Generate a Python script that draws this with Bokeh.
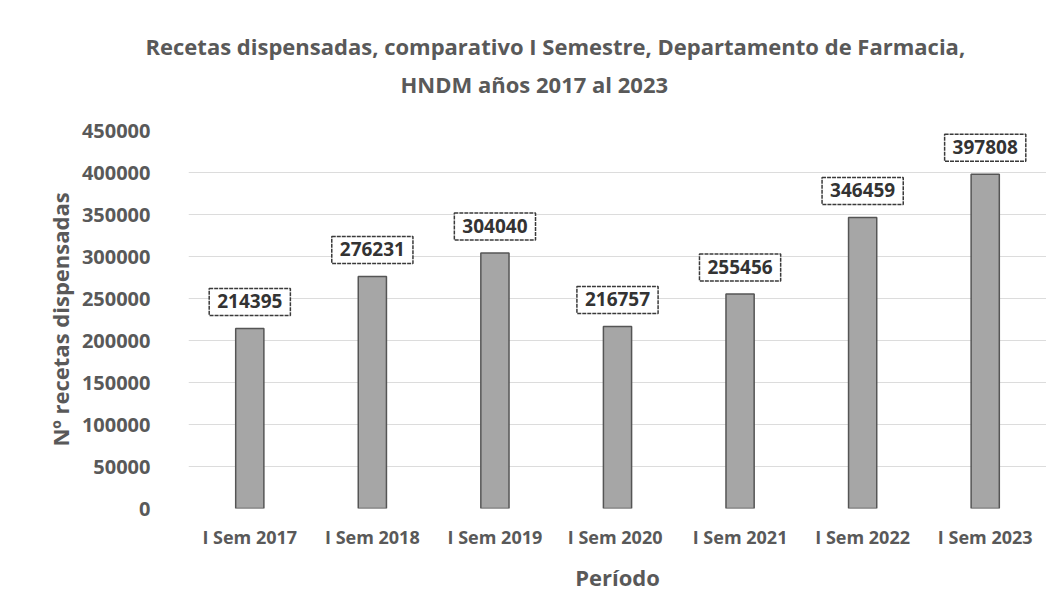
from bokeh.plotting import figure
from bokeh.models import ColumnDataSource, Label, Range1d, FactorRange, Title
from bokeh.embed import file_html
from bokeh.resources import INLINE

periods = ["I Sem 2017", "I Sem 2018", "I Sem 2019", "I Sem  2020", "I Sem 2021", "I Sem 2022", "I Sem 2023"]
recetas = [214395, 276231, 304040, 216757, 255456, 346459, 397808]
y_ticks = [0, 50000, 100000, 150000, 200000, 250000, 300000, 350000, 400000, 450000]
title_lines = ["Recetas dispensadas, comparativo I Semestre, Departamento de Farmacia,",
               "HNDM años 2017 al 2023"]

FONT = "Open Sans"
GREY = "#595959"

src = ColumnDataSource(dict(x=periods, y=recetas))

p = figure(
    x_range=FactorRange(*periods), y_range=Range1d(0, 450000),
    width=1046, height=604, output_backend="svg", toolbar_location=None,
    min_border_left=188, min_border_right=0, min_border_top=130, min_border_bottom=96,
)
p.title = None
p.outline_line_color = None
p.background_fill_color = "white"
p.border_fill_color = "white"

# title: spacer, then line 2, then line 1 (stacked outward from the frame)
p.add_layout(Title(text=" ", text_font_size="2px", standoff=25), "above")
p.add_layout(Title(text=title_lines[1], align="left", offset=212, vertical_align="middle",
                   text_font=FONT, text_font_size="22px", text_font_style="bold",
                   text_color=GREY, standoff=4), "above")
p.add_layout(Title(text=title_lines[0], align="left", offset=-43, vertical_align="middle",
                   text_font=FONT, text_font_size="22px", text_font_style="bold",
                   text_color=GREY, standoff=8), "above")

p.vbar(x="x", top="y", width=0.23, source=src, fill_color="#a6a6a6", line_color="#555555", line_width=1.5)

# factor i sits at synthetic coordinate i + 0.5 on a categorical range
for i, v in enumerate(recetas):
    p.add_layout(Label(
        x=i + 0.5, y=v, text=str(v), text_align="center", text_baseline="bottom",
        y_offset=13, text_font=FONT, text_font_size="19px", text_font_style="bold",
        text_color="#333333", background_fill_color="white",
        border_line_color="#3a3a3a", border_line_width=1.5, border_line_dash="4 1",
        padding=dict(left=8, right=8, top=6, bottom=7),
    ))

p.yaxis.ticker = y_ticks
p.yaxis.axis_label = "Nº recetas dispensadas"
p.xaxis.axis_label = "Período"
for ax in (p.xaxis, p.yaxis):
    ax.axis_line_color = None
    ax.major_tick_line_color = None
    ax.minor_tick_line_color = None
    ax.major_label_text_font = FONT
    ax.major_label_text_font_style = "bold"
    ax.major_label_text_color = GREY
    ax.axis_label_text_font = FONT
    ax.axis_label_text_font_style = "bold"
    ax.axis_label_text_color = GREY
    ax.axis_label_text_font_size = "22px"
p.yaxis.major_label_text_font_size = "20px"
p.xaxis.major_label_text_font_size = "18px"
p.yaxis.major_label_standoff = 32
p.xaxis.major_label_standoff = 10
p.yaxis.axis_label_standoff = 4
p.xaxis.axis_label_standoff = 10
p.yaxis.formatter.use_scientific = False

p.xgrid.grid_line_color = None
p.ygrid.grid_line_color = "#dcdcdc"
p.ygrid.grid_line_width = 1

open("out.html", "w").write(file_html(p, INLINE))
